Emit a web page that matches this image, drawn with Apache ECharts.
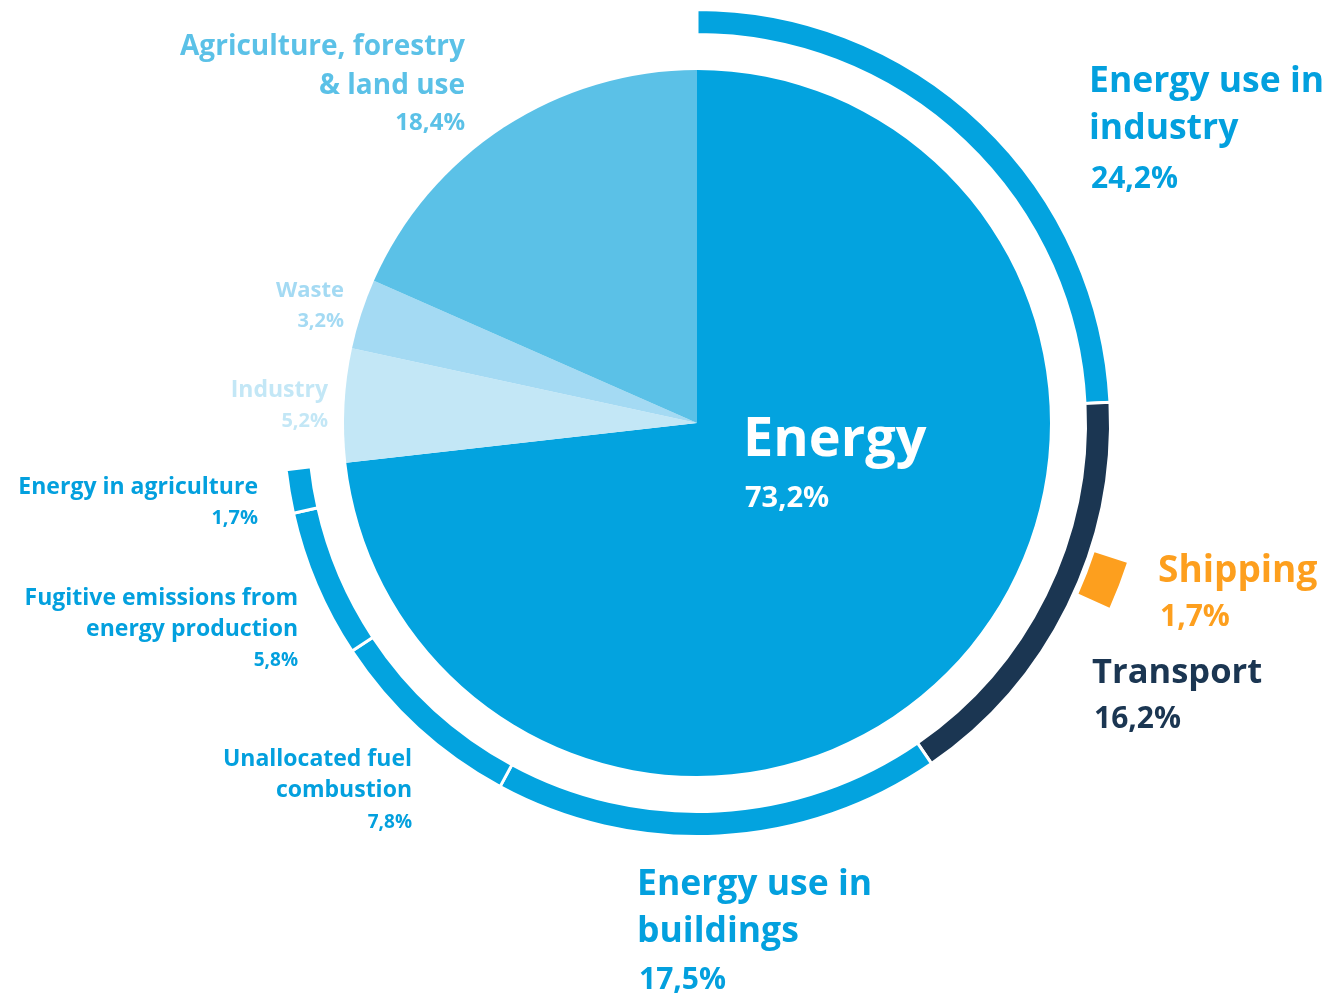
<!DOCTYPE html>
<html>
<head>
<meta charset="utf-8">
<script src="https://cdn.jsdelivr.net/npm/echarts@6/dist/echarts.min.js"></script>
<style>
  html, body { margin: 0; padding: 0; background: #fff; }
  #chart { width: 1325px; height: 994px; }
</style>
</head>
<body>
<div id="chart"></div>
<script>
// inner pie: sectors clockwise from 12 o'clock
const innerNames = ['Energy', 'Industry', 'Waste', 'Agriculture, forestry\n& land use'];
const innerValues = [73.2, 5.2, 3.2, 18.4];

// outer ring: breakdown of Energy, clockwise from 12 o'clock
const ringNames = [
  'Energy use in\nindustry',
  'Transport',
  'Energy use in\nbuildings',
  'Unallocated fuel\ncombustion',
  'Fugitive emissions from\nenergy production',
  'Energy in agriculture'
];
const ringValues = [24.2, 16.2, 17.5, 7.8, 5.8, 1.7];

// shipping is a part of transport, drawn outside the ring
const shippingName = 'Shipping';
const shippingValue = 1.7;
const shippingOffset = 5.8; // share of transport before shipping starts

const FONT = '"Open Sans", "Noto Sans", sans-serif';
const C = {
  energy: '#03a3df',
  industry: '#c3e7f6',
  waste: '#a4daf3',
  agri: '#5bc1e7',
  transport: '#1b3652',
  shipping: '#fd9f1e',
  ringText: '#03a0de'
};

const innerColors = [C.energy, C.industry, C.waste, C.agri];
const ringColors = [C.energy, C.transport, C.energy, C.energy, C.energy, C.energy];

const pct = v => v.toFixed(1).replace('.', ',') + '%';
const sum = a => a.reduce((s, v) => s + v, 0);

// where each label goes (name lines are split on \n)
const labelLayout = [
  { name: innerNames[0], value: innerValues[0], x: 743, align: 'left', ys: [441], size: 54, pctY: 499, pctSize: 29, pctDx: 2, color: '#fff' },
  { name: innerNames[1], value: innerValues[1], x: 328, align: 'right', ys: [390], size: 23, pctY: 421, pctSize: 20, pctDx: 0, color: C.industry },
  { name: innerNames[2], value: innerValues[2], x: 344, align: 'right', ys: [291], size: 22, pctY: 321, pctSize: 20, pctDx: 0, color: C.waste },
  { name: innerNames[3], value: innerValues[3], x: 465, align: 'right', ys: [47, 86], size: 28, pctY: 123, pctSize: 24, pctDx: 0, color: C.agri },
  { name: ringNames[0], value: ringValues[0], x: 1089, align: 'left', ys: [82, 129], size: 35.5, pctY: 179, pctSize: 30, pctDx: 2, color: C.ringText },
  { name: ringNames[1], value: ringValues[1], x: 1092, align: 'left', ys: [673], size: 34.5, pctY: 719, pctSize: 30, pctDx: 2, color: C.transport },
  { name: ringNames[2], value: ringValues[2], x: 637, align: 'left', ys: [885, 932], size: 35.5, pctY: 980, pctSize: 30, pctDx: 2, color: C.ringText },
  { name: ringNames[3], value: ringValues[3], x: 412, align: 'right', ys: [759, 790], size: 23, pctY: 823, pctSize: 19, pctDx: 0, color: C.ringText },
  { name: ringNames[4], value: ringValues[4], x: 298, align: 'right', ys: [598, 629], size: 23, pctY: 661, pctSize: 19, pctDx: 0, color: C.ringText },
  { name: ringNames[5], value: ringValues[5], x: 258, align: 'right', ys: [487], size: 23, pctY: 518, pctSize: 20, pctDx: 0, color: C.ringText },
  { name: shippingName, value: shippingValue, x: 1158, align: 'left', ys: [571], size: 37, pctY: 617, pctSize: 30, pctDx: 2, color: C.shipping }
];

const graphics = [];
labelLayout.forEach(l => {
  l.name.split('\n').forEach((line, i) => {
    graphics.push({
      type: 'text', silent: true, z: 100,
      style: { text: line, x: l.x, y: l.ys[i], fill: l.color, font: `bold ${l.size}px ${FONT}`, align: l.align, verticalAlign: 'middle' }
    });
  });
  graphics.push({
    type: 'text', silent: true, z: 100,
    style: { text: pct(l.value), x: l.x + l.pctDx, y: l.pctY, fill: l.color, font: `bold ${l.pctSize}px ${FONT}`, align: l.align, verticalAlign: 'middle' }
  });
});

const blank = v => ({ value: v, itemStyle: { color: 'transparent', borderWidth: 0 } });

const chart = echarts.init(document.getElementById('chart'));
chart.setOption({
  animation: false,
  series: [
    {
      type: 'pie',
      center: [697, 423],
      radius: [0, 353],
      startAngle: 90,
      silent: true,
      label: { show: false },
      labelLine: { show: false },
      data: innerNames.map((n, i) => ({ name: n, value: innerValues[i], itemStyle: { color: innerColors[i] } }))
    },
    {
      type: 'pie',
      center: [697, 423],
      radius: [388.5, 413.5],
      startAngle: 90,
      silent: true,
      label: { show: false },
      labelLine: { show: false },
      itemStyle: { borderColor: '#fff', borderWidth: 3 },
      data: ringNames.map((n, i) => ({ name: n, value: ringValues[i], itemStyle: { color: ringColors[i] } }))
        .concat([blank(100 - sum(ringValues))])
    },
    {
      type: 'pie',
      center: [697, 423],
      radius: [418, 452],
      startAngle: 90,
      silent: true,
      label: { show: false },
      labelLine: { show: false },
      data: [
        blank(ringValues[0] + shippingOffset),
        { name: shippingName, value: shippingValue, itemStyle: { color: C.shipping } },
        blank(100 - ringValues[0] - shippingOffset - shippingValue)
      ]
    }
  ],
  graphic: graphics
});
</script>
</body>
</html>
